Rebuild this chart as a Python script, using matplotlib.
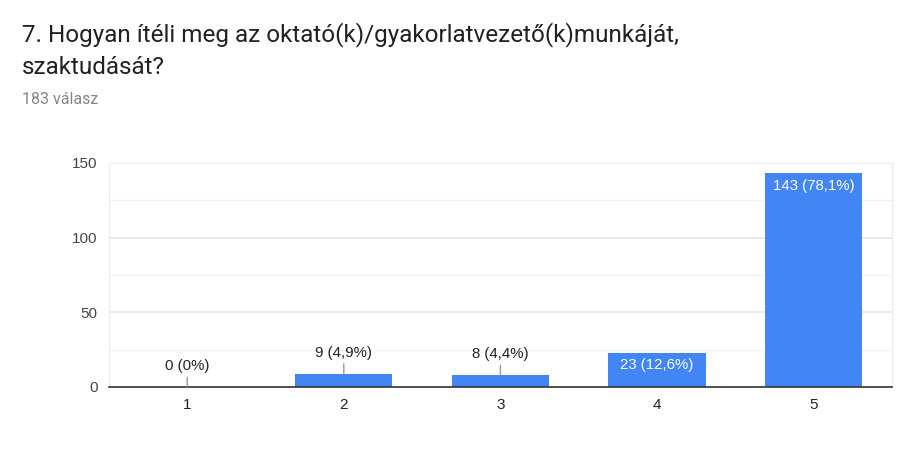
import matplotlib
matplotlib.use("Agg")
import matplotlib.pyplot as plt
import numpy as np

categories = ["1", "2", "3", "4", "5"]
counts = [0, 9, 8, 23, 143]
labels = ["0 (0%)", "9 (4,9%)", "8 (4,4%)", "23 (12,6%)", "143 (78,1%)"]
title_lines = ["7. Hogyan ítéli meg az oktató(k)/gyakorlatvezető(k)munkáját,", "szaktudását?"]
subtitle = "183 válasz"

plt.rcParams['font.family'] = ['Liberation Sans', 'DejaVu Sans']

fig = plt.figure(figsize=(9, 4.5), dpi=100)
ax = fig.add_axes([0.121, 0.14, 0.870, 0.498])

x = np.arange(len(categories))
ax.bar(x, counts, width=0.62, color="#4285F4", zorder=3)

ax.set_xlim(-0.5, 4.5)
ax.set_ylim(0, 150)
ax.set_yticks([0, 50, 100, 150])
ax.set_yticks([25, 75, 125], minor=True)
ax.set_xticks(x)
ax.set_xticklabels(categories)
ax.grid(axis="y", which="major", color="#e6e6e6", linewidth=1.2, zorder=0)
ax.grid(axis="y", which="minor", color="#f2f2f2", linewidth=1.0, zorder=0)
ax.tick_params(axis="both", which="both", length=0, labelsize=11, colors="#444444", pad=8)
ax.tick_params(axis="x", colors="#222222")

for s in ["left", "right", "top"]:
    ax.spines[s].set_color("#ebebeb")
ax.spines["bottom"].set_color("#333333")
ax.spines["bottom"].set_linewidth(1.2)
ax.spines["bottom"].set_zorder(4)

for i, (v, lab) in enumerate(zip(counts, labels)):
    if v > 20:
        ax.annotate(lab, xy=(i, v), xytext=(0, -4), textcoords="offset points",
                    ha="center", va="top", color="white", fontsize=10.8, zorder=5)
    else:
        ax.annotate(lab, xy=(i, v), xytext=(0, 10), textcoords="offset points",
                    ha="center", va="bottom", color="#222222", fontsize=10.8, zorder=5,
                    arrowprops=dict(arrowstyle="-", color="#999999", lw=1,
                                    shrinkA=1, shrinkB=0))

for k, line in enumerate(title_lines):
    fig.text(22 / 900, 1 - (35 + 33 * k) / 450, line, fontsize=17.5,
             family=['Roboto', 'DejaVu Sans'], color="#202124", va="center", ha="left")
fig.text(22 / 900, 1 - 100 / 450, subtitle, fontsize=11.5, family=['Roboto', 'DejaVu Sans'],
         color="#80868b", va="center", ha="left")

fig.savefig("out.png", dpi=100)
